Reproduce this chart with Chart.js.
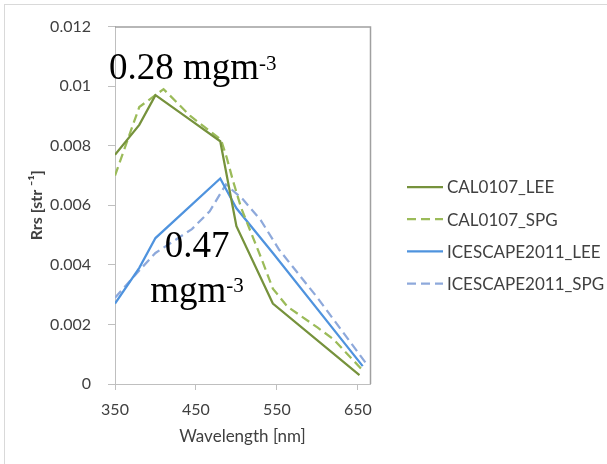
<!DOCTYPE html>
<html><head><meta charset="utf-8">
<script src="https://cdn.jsdelivr.net/npm/chart.js@4.4.1/dist/chart.umd.min.js"></script>
<style>
html,body{margin:0;padding:0;background:#fff;}
#wrap{position:relative;width:607px;height:464px;overflow:hidden;}
#frame{position:absolute;left:4px;top:4px;width:700px;height:600px;border-top:1px solid #d9d9d9;border-left:1px solid #d9d9d9;}
canvas{position:absolute;left:0;top:0;}
</style></head><body>
<div id="wrap"><div id="frame"></div><canvas id="c" width="607" height="464"></canvas></div>
<script>
// ---- data ----
const seriesNames = ['CAL0107_LEE', 'CAL0107_SPG', 'ICESCAPE2011_LEE', 'ICESCAPE2011_SPG'];
const calLeeWl  = [350, 380, 400, 443, 480, 500, 545, 652];
const calLeeRrs = [0.0077, 0.0087, 0.0097, 0.00887, 0.00815, 0.0053, 0.0027, 0.0003];
const calSpgWl  = [350, 380, 410, 443, 481, 488, 496, 506, 531, 545, 563, 600, 620, 658];
const calSpgRrs = [0.0070, 0.0093, 0.0099, 0.0090, 0.0082, 0.0076, 0.0068, 0.0059, 0.0042, 0.0032, 0.0026, 0.0019, 0.0015, 0.0004];
const iceLeeWl  = [350, 380, 400, 480, 500, 545, 656];
const iceLeeRrs = [0.0027, 0.0039, 0.0049, 0.0069, 0.0059, 0.0044, 0.0006];
const iceSpgWl  = [350, 383, 400, 445, 467, 487, 508, 530, 553, 600, 660];
const iceSpgRrs = [0.0029, 0.0039, 0.0044, 0.0052, 0.0058, 0.0067, 0.0062, 0.0055, 0.0045, 0.0029, 0.0007];
const xTickValues = [350, 450, 550, 650];
const yTickValues = [0, 0.002, 0.004, 0.006, 0.008, 0.01, 0.012];
const yTickLabels = ['0', '0.002', '0.004', '0.006', '0.008', '0.01', '0.012'];
const xTitle = 'Wavelength [nm]';
const yTitle = 'Rrs [str \u207B\u00B9]';
const note1 = {main: '0.28 mgm', sup: '-3'};
const note2 = {line1: '0.47', line2: 'mgm', sup: '-3'};

// ---- styles ----
const styles = [
  {color: '#76923C', dash: []},
  {color: '#9BBB59', dash: [9, 5]},
  {color: '#4F93DE', dash: []},
  {color: '#8EA9DB', dash: [9, 5]}
];
const pairs = (xs, ys) => xs.map((x, i) => ({x: x, y: ys[i]}));
const seriesData = [pairs(calLeeWl, calLeeRrs), pairs(calSpgWl, calSpgRrs), pairs(iceLeeWl, iceLeeRrs), pairs(iceSpgWl, iceSpgRrs)];
const datasets = seriesNames.map((n, i) => ({
  label: n, data: seriesData[i], borderColor: styles[i].color, backgroundColor: styles[i].color,
  borderWidth: 2.25, borderDash: styles[i].dash, pointRadius: 0, tension: 0, fill: false
}));

const FONT = 'Lato';
const framePlugin = {
  id: 'frameLines',
  beforeDatasetsDraw(chart) {
    const {ctx, chartArea: a} = chart;
    ctx.save();
    ctx.strokeStyle = '#A0A0A0';
    ctx.lineWidth = 1.5;
    ctx.beginPath();
    ctx.moveTo(a.left, a.top + 0.5);
    ctx.lineTo(a.right + 0.5, a.top + 0.5);
    ctx.lineTo(a.right + 0.5, a.bottom);
    ctx.stroke();
    ctx.restore();
  }
};
const legendPlugin = {
  id: 'sideLegend',
  afterDraw(chart) {
    const {ctx} = chart;
    ctx.save();
    chart.data.datasets.forEach((ds, i) => {
      const y = 187 + i * 32.2;
      ctx.strokeStyle = ds.borderColor;
      ctx.lineWidth = 2.25;
      ctx.setLineDash(ds.borderDash);
      ctx.beginPath();
      ctx.moveTo(407, y); ctx.lineTo(443, y);
      ctx.stroke();
      ctx.setLineDash([]);
      ctx.fillStyle = '#404040';
      ctx.font = '17px ' + FONT;
      ctx.textBaseline = 'middle';
      ctx.textAlign = 'left';
      ctx.fillText(ds.label, 447, y + 1);
    });
    ctx.restore();
  }
};
const notePlugin = {
  id: 'notes',
  afterDatasetsDraw(chart) {
    const {ctx} = chart;
    const big = '37px "Liberation Serif"', small = '21px "Liberation Serif"';
    ctx.save();
    ctx.fillStyle = '#000';
    ctx.textBaseline = 'alphabetic';
    ctx.textAlign = 'left';
    ctx.font = big;
    ctx.fillText(note1.main, 109, 79);
    const w1 = ctx.measureText(note1.main).width;
    ctx.font = small;
    ctx.fillText(note1.sup, 109 + w1, 70);
    // second note, centred
    ctx.font = big;
    const cx = 197;
    const wA = ctx.measureText(note2.line1).width;
    ctx.fillText(note2.line1, cx - wA / 2, 257);
    const wB = ctx.measureText(note2.line2).width;
    ctx.font = small;
    const wS = ctx.measureText(note2.sup).width;
    const start = cx - (wB + wS) / 2;
    ctx.font = big;
    ctx.fillText(note2.line2, start, 302);
    ctx.font = small;
    ctx.fillText(note2.sup, start + wB, 292);
    ctx.restore();
  }
};

new Chart(document.getElementById('c'), {
  type: 'line',
  data: {datasets: datasets},
  options: {
    responsive: false,
    animation: false,
    devicePixelRatio: 1,
    layout: {padding: {left: 0, top: 22, right: 237, bottom: 0}},
    plugins: {legend: {display: false}, tooltip: {enabled: false}},
    scales: {
      x: {
        type: 'linear', min: 350, max: 665,
        afterBuildTicks: s => { s.ticks = xTickValues.map(v => ({value: v})); },
        afterFit: s => { s.height = 80; },
        grid: {drawOnChartArea: false, color: '#BFBFBF', tickLength: 6},
        border: {color: '#BFBFBF', width: 1},
        ticks: {padding: 10, color: '#404040', font: {family: FONT, size: 16}, maxRotation: 0, callback: v => String(v)},
        title: {display: true, text: xTitle, color: '#404040', font: {family: FONT, size: 17}, padding: {top: 0, bottom: 17}}
      },
      y: {
        type: 'linear', min: 0, max: 0.012,
        afterBuildTicks: s => { s.ticks = yTickValues.map(v => ({value: v})); },
        afterFit: s => { s.width = 115; },
        grid: {drawOnChartArea: false, color: '#BFBFBF', tickLength: 7},
        border: {color: '#BFBFBF', width: 1},
        ticks: {padding: 17, color: '#404040', font: {family: FONT, size: 16}, callback: (v, i) => yTickLabels[i]},
        title: {display: true, text: yTitle, color: '#404040', font: {family: FONT, size: 16, weight: 'bold'}, padding: {top: 27, bottom: 0}}
      }
    }
  },
  plugins: [framePlugin, notePlugin, legendPlugin]
});
</script>
</body></html>
